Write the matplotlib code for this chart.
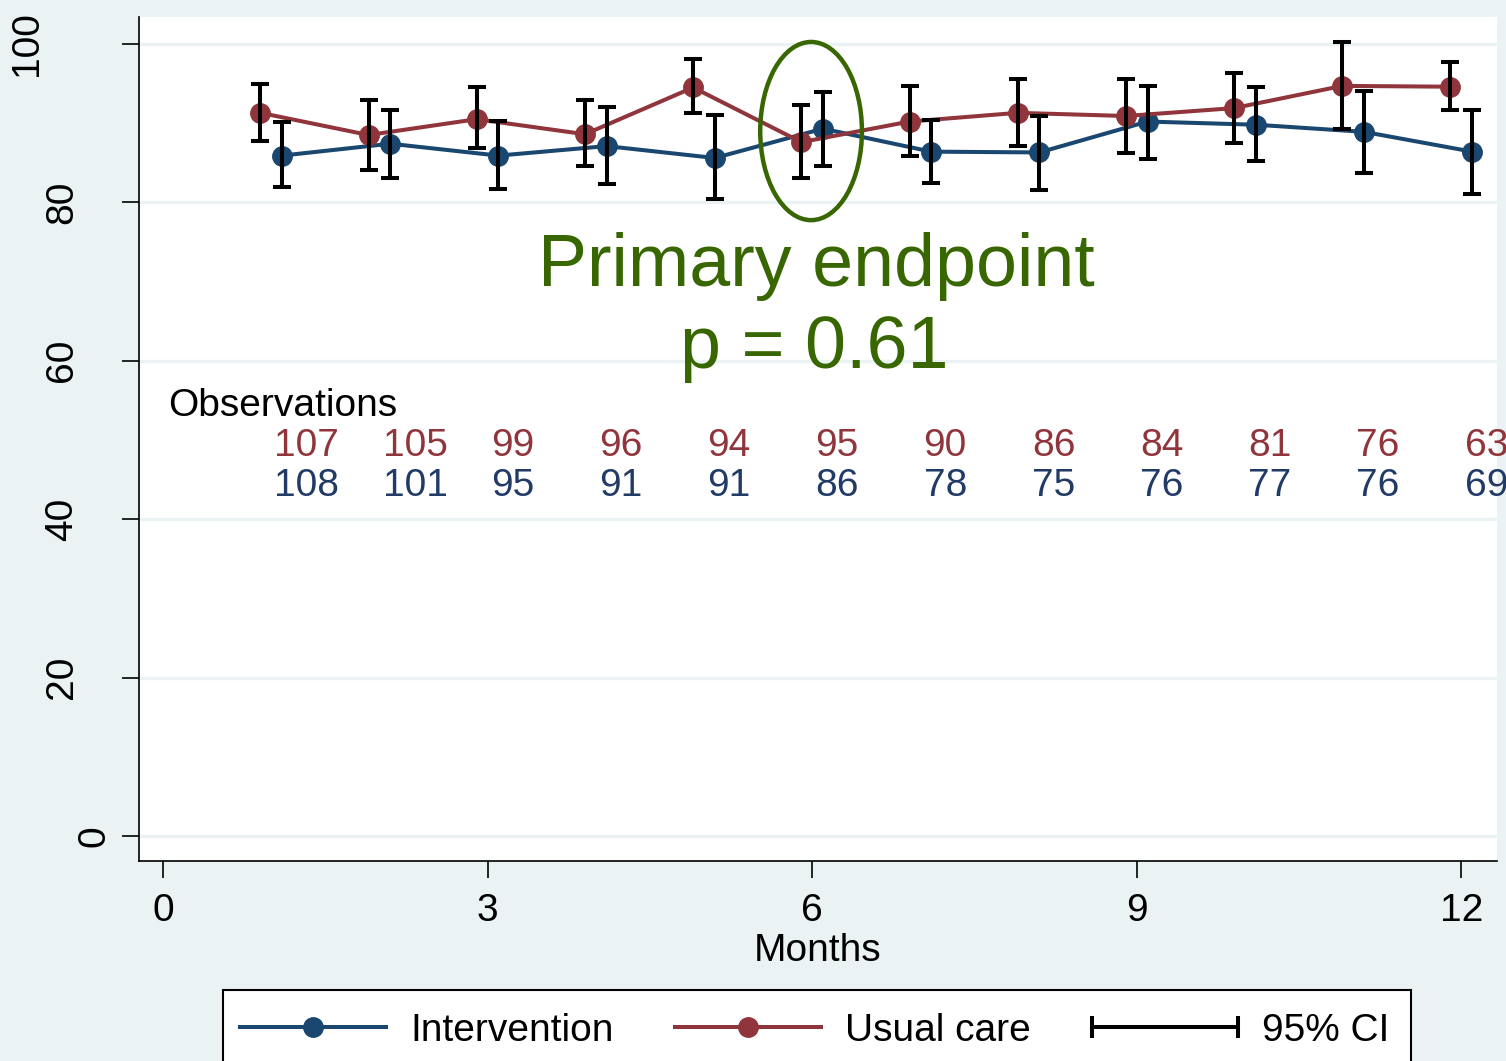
import numpy as np
import matplotlib
matplotlib.use("Agg")
import matplotlib.pyplot as plt
from matplotlib.lines import Line2D
from matplotlib.patches import Ellipse, Rectangle
from matplotlib.legend_handler import HandlerLine2D
import matplotlib.transforms as mtransforms

plt.rcParams['font.family'] = ['Liberation Sans', 'DejaVu Sans']

# ---- data -------------------------------------------------------------
months = np.arange(1, 13)

usual_mean = [91.3, 88.5, 90.5, 88.6, 94.5, 87.6, 90.2, 91.3, 90.9, 91.9, 94.7, 94.6]
usual_lo = [87.8, 84.1, 86.8, 84.6, 91.3, 83.1, 85.8, 87.1, 86.2, 87.5, 89.2, 91.6]
usual_hi = [94.9, 92.9, 94.5, 92.9, 98.1, 92.3, 94.7, 95.6, 95.6, 96.3, 100.3, 97.7]

interv_mean = [85.9, 87.4, 85.9, 87.1, 85.6, 89.3, 86.4, 86.3, 90.2, 89.8, 88.9, 86.4]
interv_lo = [81.9, 83.1, 81.7, 82.3, 80.4, 84.6, 82.4, 81.6, 85.5, 85.2, 83.7, 81.1]
interv_hi = [90.2, 91.6, 90.3, 92.1, 91.0, 93.9, 90.4, 90.9, 94.7, 94.6, 94.0, 91.7]

n_usual = [107, 105, 99, 96, 94, 95, 90, 86, 84, 81, 76, 63]
n_interv = [108, 101, 95, 91, 91, 86, 78, 75, 76, 77, 76, 69]

xticks = [0, 3, 6, 9, 12]
yticks = [0, 20, 40, 60, 80, 100]
ytick_labels = ["0", "20", "40", "60", "80", "100"]

# ---- style ------------------------------------------------------------
BG = "#EAF2F3"
BLUE = "#1A476F"
RED = "#90353B"
BLUE_TXT = "#213A66"
GREEN = "#386600"
FS = 28

W, H = 1506, 1061
fig = plt.figure(figsize=(W / 100, H / 100), dpi=100, facecolor=BG)
ax = fig.add_axes([139 / W, (H - 861) / H, (1497 - 139) / W, (861 - 17) / H])
ax.set_facecolor("white")

ax.set_xlim(-0.222, 12.33)
ax.set_ylim(-3.16, 103.4)

# grid
ax.set_axisbelow(True)
ax.yaxis.grid(True, color=BG, linewidth=2.4)
ax.xaxis.grid(False)

for side in ("top", "right"):
    ax.spines[side].set_visible(False)
for side in ("left", "bottom"):
    ax.spines[side].set_color("black")
    ax.spines[side].set_linewidth(1.2)

x_u = months - 0.1
x_i = months + 0.1

ax.plot(x_i, interv_mean, color=BLUE, lw=2.9, marker="o", ms=14,
        mec=BLUE, mfc=BLUE, zorder=3)
ax.plot(x_u, usual_mean, color=RED, lw=2.9, marker="o", ms=14,
        mec=RED, mfc=RED, zorder=3)

for xs, m, lo, hi in ((x_u, usual_mean, usual_lo, usual_hi),
                      (x_i, interv_mean, interv_lo, interv_hi)):
    m = np.array(m)
    yerr = np.vstack([m - np.array(lo), np.array(hi) - m])
    ax.errorbar(xs, m, yerr=yerr, fmt="none", ecolor="black", elinewidth=2.9,
                capsize=6.5, capthick=2.9, zorder=4)

# primary endpoint highlight
ax.add_patch(Ellipse((5.99, 89.0), 0.94, 22.5, fill=False, edgecolor=GREEN,
                     linewidth=3.2, zorder=5))
ax.text(6.04, 69.4, "Primary endpoint", color=GREEN, fontsize=53,
        ha="center", va="baseline", zorder=6)
ax.text(6.02, 59.1, "p = 0.61", color=GREEN, fontsize=53,
        ha="center", va="baseline", zorder=6)

# observation counts
ax.text(0.05, 54.3, "Observations", color="black", fontsize=FS,
        ha="left", va="center")
for m, nu, ni in zip(months, n_usual, n_interv):
    ax.text(m + 0.03, 49.2, str(nu), color=RED, fontsize=FS, ha="left",
            va="center", clip_on=False)
    ax.text(m + 0.03, 44.2, str(ni), color=BLUE_TXT, fontsize=FS, ha="left",
            va="center", clip_on=False)

# axes ticks
ax.set_xticks(xticks)
ax.set_xticklabels([str(t) for t in xticks], fontsize=FS)
ax.tick_params(axis="x", length=12, width=1.2, pad=11, color="black")
ax.set_xlabel("Months", fontsize=FS, labelpad=3)

ax.set_yticks(yticks)
ax.set_yticklabels([""] * len(yticks))
ax.tick_params(axis="y", length=12, width=1.2, color="black")
ylab_tr = mtransforms.blended_transform_factory(fig.transFigure, ax.transData)
ylab_x = {"0": 94, "100": 27}
for t, lab in zip(yticks, ytick_labels):
    px = ylab_x.get(lab, 62)
    ax.text(px / W, t, lab, transform=ylab_tr, rotation=90, fontsize=FS,
            ha="center", va="center", clip_on=False)

# legend box (runs off the lower edge of the figure)
fig.patches.append(Rectangle((223 / W, -0.05), (1411 - 223) / W, 0.05 + (H - 990) / H,
                             transform=fig.transFigure, facecolor="white",
                             edgecolor="black", linewidth=1.5, zorder=1))

h_int = Line2D([], [], color=BLUE, lw=2.9, marker="o", ms=14, mfc=BLUE, mec=BLUE)
h_uc = Line2D([], [], color=RED, lw=2.9, marker="o", ms=14, mfc=RED, mec=RED)
h_ci = Line2D([], [], color="black", lw=2.9, marker="|", ms=16, mew=2.9)
leg = fig.legend([h_int, h_uc, h_ci], ["Intervention", "Usual care", "95% CI"],
                 loc="center left", bbox_to_anchor=(240 / W, 1 - 1031 / H),
                 ncol=3, fontsize=FS, frameon=False,
                 handlelength=3.75, handletextpad=0.62, columnspacing=1.58,
                 borderpad=0, borderaxespad=0,
                 handler_map={h_ci: HandlerLine2D(numpoints=2, marker_pad=0)})
leg.set_zorder(2)

fig.savefig("out.png", dpi=100, facecolor=BG)
